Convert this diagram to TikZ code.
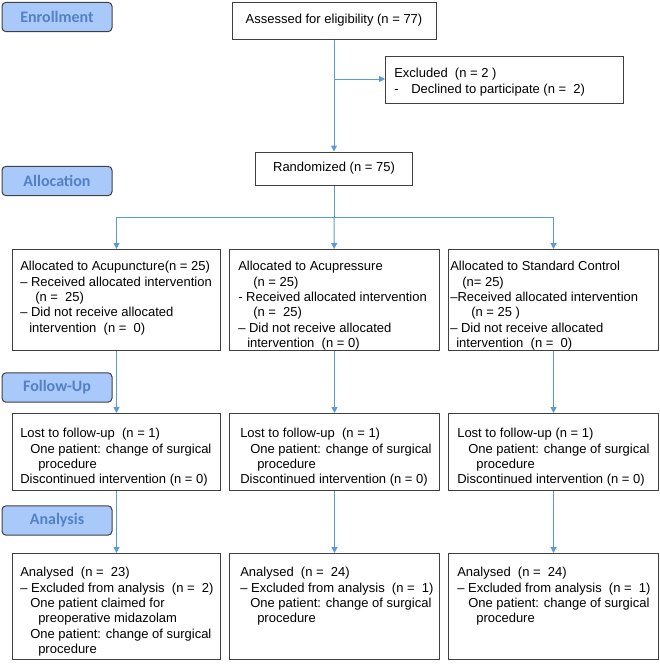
\documentclass[tikz,border=0pt]{standalone}
\usepackage{fontspec}
\setmainfont{Liberation Sans}
\newfontfamily\labfont{Carlito}
\usetikzlibrary{arrows.meta}
\definecolor{arrowblue}{RGB}{91,155,213}
\definecolor{labfill}{RGB}{168,201,250}
\definecolor{labtext}{RGB}{84,128,196}
\definecolor{boxline}{RGB}{64,64,64}
\begin{document}
\begin{tikzpicture}[x=0.75pt,y=-0.75pt,
  stage/.style={draw=boxline, line width=0.75pt, fill=labfill, rounded corners=3pt,
    minimum width=82.5pt, minimum height=22pt, inner sep=0pt,
    font=\labfont\bfseries\fontsize{12}{13}\selectfont, text=labtext},
  frame/.style={draw=boxline, line width=0.75pt, inner sep=0pt,
    font=\fontsize{9.75}{11.5}\selectfont},
  txt/.style={anchor=north west, inner sep=0pt, align=left,
    font=\fontsize{9.75}{11.5}\selectfont},
  conn/.style={draw=arrowblue, line width=0.75pt},
  arr/.style={conn, -{Triangle[length=4.5pt,width=4.5pt]}}
]
\useasboundingbox (0,0) rectangle (660,671);

% stage labels
\node[stage] (lenr) at (57,17) {Enrollment};
\node[stage] (lall) at (57,181) {Allocation};
\node[stage] (lfol) at (57,387.5) {Follow-Up};
\node[stage] (lana) at (57,520.5) {Analysis};

% enrollment
\node[frame, minimum width=153pt, minimum height=27.75pt] (assess) at (334,20.5)
  {Assessed for eligibility (n = 77)};
\node[frame, anchor=north west, minimum width=178.5pt, minimum height=35.25pt] (excl) at (385,56) {};
\node[txt] (excltxt) at (394,68) {Excluded~ (n = 2 )\\
-\hspace{9.5pt}Declined to participate (n =~ 2)};
\node[frame, minimum width=117.75pt, minimum height=24.75pt] (rand) at (334,168.5)
  {Randomized (n = 75)};

% allocation boxes
\node[frame, anchor=north west, minimum width=156pt, minimum height=75.75pt] (a1) at (12,249) {};
\node[frame, anchor=north west, minimum width=157.5pt, minimum height=75.75pt] (a2) at (229,249) {};
\node[frame, anchor=north west, minimum width=157.5pt, minimum height=75.75pt] (a3) at (448,249) {};
\node[txt] (a1txt) at (20,261) {Allocated to Acupuncture(n = 25)\\
– Received allocated intervention\\
\hspace*{11.25pt}(n =~ 25)\\
– Did not receive allocated\\
\hspace*{6.75pt}intervention~ (n =~ 0)};
\node[txt] (a2txt) at (238,261) {Allocated to Acupressure\\
\hspace*{11.25pt}(n = 25)\\
- Received allocated intervention\\
\hspace*{11.25pt}(n =~ 25)\\
– Did not receive allocated\\
\hspace*{6.75pt}intervention~ (n = 0)};
\node[txt] (a3txt) at (450,261) {Allocated to Standard Control\\
\hspace*{9pt}(n= 25)\\
–Received allocated intervention\\
\hspace*{15.75pt}(n = 25 )\\
– Did not receive allocated\\
\hspace*{4.5pt}intervention~ (n =~ 0)};

% follow-up boxes
\node[frame, anchor=north west, minimum width=156pt, minimum height=57.75pt] (f1) at (12,413) {};
\node[frame, anchor=north west, minimum width=157.5pt, minimum height=57.75pt] (f2) at (229,413) {};
\node[frame, anchor=north west, minimum width=157.5pt, minimum height=57.75pt] (f3) at (448,413) {};
\node[txt] (f1txt) at (20,428) {Lost to follow-up~ (n = 1)\\
\hspace*{7.5pt}One patient: change of surgical\\
\hspace*{13.5pt}procedure\\
Discontinued intervention (n = 0)};
\node[txt] (f2txt) at (240,428) {Lost to follow-up~ (n = 1)\\
\hspace*{7.5pt}One patient: change of surgical\\
\hspace*{12.75pt}procedure\\
Discontinued intervention (n = 0)};
\node[txt] (f3txt) at (457,428) {Lost to follow-up (n = 1)\\
\hspace*{8.25pt}One patient: change of surgical\\
\hspace*{14.25pt}procedure\\
Discontinued intervention (n = 0)};

% analysis boxes
\node[frame, anchor=north west, minimum width=156pt, minimum height=79.5pt] (n1) at (12,553) {};
\node[frame, anchor=north west, minimum width=157.5pt, minimum height=79.5pt] (n2) at (229,553) {};
\node[frame, anchor=north west, minimum width=157.5pt, minimum height=79.5pt] (n3) at (448,553) {};
\node[txt] (n1txt) at (20,567) {Analysed~ (n =~ 23)\\
– Excluded from analysis~ (n =~ 2)\\
\hspace*{7.5pt}One patient claimed for\\
\hspace*{13.5pt}preoperative midazolam\\
\hspace*{7.5pt}One patient: change of surgical\\
\hspace*{13.5pt}procedure};
\node[txt] (n2txt) at (240,567) {Analysed~ (n =~ 24)\\
– Excluded from analysis~ (n =~ 1)\\
\hspace*{7.5pt}One patient: change of surgical\\
\hspace*{12.75pt}procedure};
\node[txt] (n3txt) at (457,567) {Analysed~ (n =~ 24)\\
– Excluded from analysis~ (n =~ 1)\\
\hspace*{8.25pt}One patient: change of surgical\\
\hspace*{14.25pt}procedure};

% connectors
\coordinate (exbranch) at (334,79);
\coordinate (split) at (334,217);
\draw[arr] (assess) -- (rand);
\draw[arr] (exbranch) -- (exbranch -| excl.west);
\draw[conn] (rand) -- (split);
\draw[arr] (split) -- (a2);
\draw[arr] (split) -| (a1);
\draw[arr] (split) -| (a3);
\draw[arr] (a1) -- (f1);
\draw[arr] (a2) -- (f2);
\draw[arr] (a3) -- (f3);
\draw[arr] (f1) -- (n1);
\draw[arr] (f2) -- (n2);
\draw[arr] (f3) -- (n3);
\end{tikzpicture}
\end{document}
